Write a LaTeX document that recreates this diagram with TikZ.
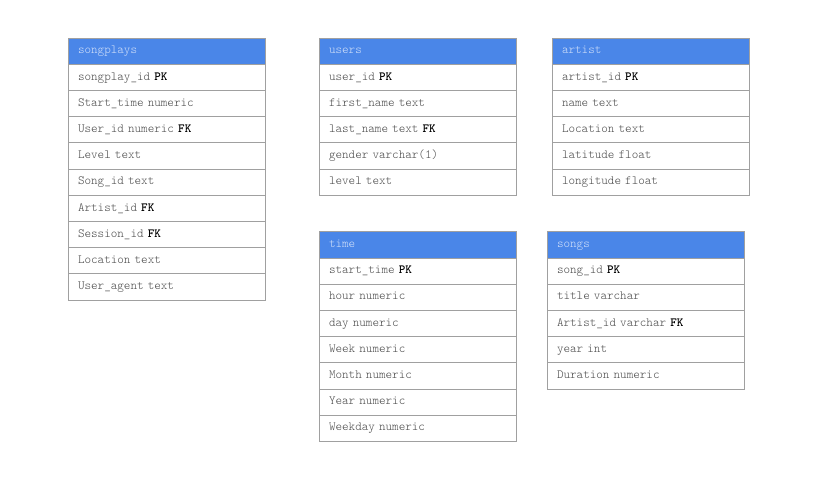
\documentclass[tikz,border=0pt]{standalone}
\usepackage{fontspec}
\setmonofont{Latin Modern Mono Light}
\usetikzlibrary{positioning}
\definecolor{headblue}{HTML}{4A86E8}
\definecolor{headtext}{HTML}{D4E2FA}
\definecolor{celltext}{HTML}{484848}
\definecolor{cellline}{HTML}{A0A0A0}
\newcommand{\keyfld}[1]{\textcolor{black}{\textbf{#1}}}
\tikzset{
    cell/.style={rectangle, draw=cellline, line width=0.8pt, minimum height=26.2pt, text width=177pt,
        text height=8pt, text depth=2.5pt, inner xsep=10pt, inner ysep=0pt, outer sep=0pt, align=left,
        anchor=north west, font=\ttfamily\fontsize{12.5}{13}\selectfont},
    tablehead/.style={cell, fill=headblue, text=headtext},
    tablerow/.style={cell, fill=white, text=celltext}
}

\begin{document}
\begin{tikzpicture}[x=1pt, y=-1pt]
    \fill[white] (0,0) rectangle (826,486);
    % songplays
    \node[tablehead] (songplays-0) at (68,38) {songplays};
    \foreach \field [count=\i, evaluate=\i as \j using int(\i-1)] in {songplay\_id \keyfld{PK}, Start\_time numeric,
        User\_id numeric \keyfld{FK}, Level text, Song\_id text, Artist\_id \keyfld{FK}, Session\_id \keyfld{FK},
        Location text, User\_agent text}
        \node[tablerow, below=0pt of songplays-\j] (songplays-\i) {\field};
    % users
    \node[tablehead] (users-0) at (319,38) {users};
    \foreach \field [count=\i, evaluate=\i as \j using int(\i-1)] in {user\_id \keyfld{PK}, first\_name text,
        last\_name text \keyfld{FK}, gender varchar(1), level text}
        \node[tablerow, below=0pt of users-\j] (users-\i) {\field};
    % artist
    \node[tablehead] (artist-0) at (552,38) {artist};
    \foreach \field [count=\i, evaluate=\i as \j using int(\i-1)] in {artist\_id \keyfld{PK}, name text,
        Location text, latitude float, longitude float}
        \node[tablerow, below=0pt of artist-\j] (artist-\i) {\field};
    % time
    \node[tablehead] (time-0) at (319,231.7) {time};
    \foreach \field [count=\i, evaluate=\i as \j using int(\i-1)] in {start\_time \keyfld{PK}, hour numeric,
        day numeric, Week numeric, Month numeric, Year numeric, Weekday numeric}
        \node[tablerow, below=0pt of time-\j] (time-\i) {\field};
    % songs
    \node[tablehead] (songs-0) at (547,231.7) {songs};
    \foreach \field [count=\i, evaluate=\i as \j using int(\i-1)] in {song\_id \keyfld{PK}, title varchar,
        Artist\_id varchar \keyfld{FK}, year int, Duration numeric}
        \node[tablerow, below=0pt of songs-\j] (songs-\i) {\field};
\end{tikzpicture}
\end{document}
